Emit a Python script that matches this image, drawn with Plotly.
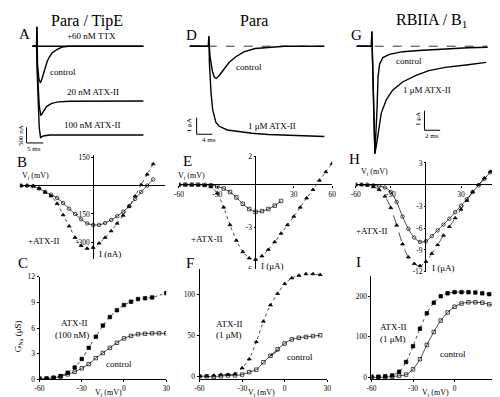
import plotly.graph_objects as go

W, H = 500, 397
FONT = "Liberation Serif"

# ---------------- DATA ----------------
# Panel A  (Para/TipE currents; time in ms, current in nA)
A_T_TTX = [-1.2, 0, 0.08, 0.25, 0.6, 32]
A_I_TTX = [0, 0, 620, 0, 0, 0]
A_T_CTRL = [-1.2, 0, 0.08, 0.3, 0.7, 1.1, 1.4, 1.76, 2.2, 2.74, 3.2, 3.73, 4.7, 6.2, 7.6, 9.6, 32]
A_I_CTRL = [0, 0, 620, -600, -1050, -1156, -1120, -990, -800, -625, -480, -365, -210, -103, -31, 0, 0]
A_T_20 = [-1.2, 0, 0.3, 0.8, 1.27, 2.0, 3.0, 4.5, 6.5, 10, 32]
A_I_20 = [0, 0, -900, -1900, -2220, -2080, -1930, -1830, -1780, -1760, -1750]
A_T_100 = [-1.2, 0, 0.3, 0.8, 1.2, 2.0, 4.0, 32]
A_I_100 = [0, 0, -1200, -2600, -2920, -2870, -2840, -2840]

# Panel D  (Para; ms, uA)
D_T_CTRL = [-4.75, 0, 0.1, 0.4, 1.0, 1.5, 2.0, 2.75, 4.0, 5.25, 6.9, 9.0, 11.9, 15.25, 19.4, 29.5]
D_I_CTRL = [0, 0, 0.6, -0.6, -1.5, -1.85, -1.94, -1.76, -1.37, -0.98, -0.65, -0.34, -0.14, -0.06, 0, 0]
D_T_ATX = [-4.75, 0, 0.1, 0.25, 0.67, 1.08, 1.9, 2.75, 4.8, 6.9, 11.1, 15.25, 23.6, 29.5]
D_I_ATX = [0, 0, 0.6, -1.0, -2.82, -3.82, -4.59, -4.82, -5.04, -5.12, -5.24, -5.31, -5.39, -5.43]

# Panel G  (RBIIA/B1; ms, uA)
G_T_CTRL = [-1.875, 0, 0.05, 0.25, 0.44, 0.71, 0.84, 1.04, 1.46, 2.29, 3.96, 6.04, 8.1, 12.3, 14.8]
G_I_CTRL = [0, 0, 0.75, -3.0, -5.5, -3.25, -1.58, -0.92, -0.58, -0.42, -0.28, -0.22, -0.17, -0.08, -0.05]
G_T_ATX = [-1.875, 0, 0.05, 0.25, 0.44, 0.63, 0.84, 1.25, 1.875, 2.7, 3.96, 5.6, 7.3, 9.4, 12.3, 14.6]
G_I_ATX = [0, 0, 0.75, -3.0, -5.5, -5.08, -4.42, -3.42, -2.75, -2.25, -1.83, -1.5, -1.25, -1.08, -0.95, -0.83]

# Panel B  (I-V, nA)
B_V = [-60, -55, -50, -45, -40, -35, -30, -25, -20, -15, -10, -5, 0, 5, 10, 15, 20, 25, 30, 35, 40, 45, 50]
B_CTRL = [0, 0, -3, -15, -33, -48, -65, -92, -122, -150, -178, -200, -208, -208, -198, -182, -162, -138, -108, -70, -33, 0, 33]
B_ATX = [0, 0, -3, -15, -35, -55, -95, -155, -215, -275, -318, -333, -328, -305, -275, -240, -200, -158, -110, -55, 5, 60, 115]

# Panel E  (I-V, uA)
E_V_CTRL = [-60, -55, -50, -45, -40, -35, -30, -25, -20, -15, -10, -5, 0, 5, 10, 15, 20]
E_CTRL = [0, 0, 0, 0, -0.02, -0.05, -0.12, -0.27, -0.52, -0.9, -1.35, -1.72, -1.92, -1.87, -1.72, -1.48, -1.15]
E_V_ATX = [-60, -55, -50, -45, -40, -35, -30, -25, -20, -15, -10, -5, 0, 5, 10, 15, 20, 25, 30, 35, 40, 45, 50, 55, 60]
E_ATX = [0, 0, 0, -0.02, -0.05, -0.16, -0.6, -1.6, -2.85, -3.95, -4.75, -5.2, -5.3, -5.05, -4.6, -4.05, -3.45, -2.85, -2.25, -1.6, -0.95, -0.35, 0.3, 0.9, 1.5]

# Panel H  (I-V, uA)
H_V = [-60, -55, -50, -45, -40, -35, -30, -25, -20, -15, -10, -5, 0, 5, 10, 15, 20, 25, 30, 35, 40, 45, 50, 55, 60]
H_CTRL = [0, 0, 0, -0.1, -0.2, -0.4, -1.0, -2.4, -4.4, -6.1, -7.3, -7.9, -7.8, -7.1, -6.3, -5.5, -4.7, -3.8, -2.9, -2.0, -1.0, -0.1, 0.8, 1.7, 2.6]
H_ATX = [0, 0, -0.1, -0.3, -0.7, -1.6, -3.2, -5.6, -8.2, -10.0, -10.9, -11.2, -10.6, -9.5, -8.3, -7.0, -5.8, -4.6, -3.4, -2.2, -1.0, 0.0, 0.9, 1.8, 2.7]

# Panel C  (G-V, uS)
C_V_ATX = [-60, -55, -50, -45, -40, -35, -30, -25, -20, -15, -10, -5, 0, 5, 10, 15, 20, 30]
C_ATX = [0.1, 0.1, 0.2, 0.4, 0.8, 1.4, 2.4, 3.7, 5.0, 6.3, 7.3, 8.1, 8.7, 9.1, 9.4, 9.5, 9.6, 10.1]
C_V_CTRL = [-60, -55, -50, -45, -40, -35, -30, -25, -20, -15, -10, -5, 0, 5, 10, 15, 20, 25, 30]
C_CTRL = [0.05, 0.1, 0.2, 0.35, 0.6, 0.9, 1.3, 1.8, 2.5, 3.1, 3.7, 4.3, 4.8, 5.1, 5.3, 5.35, 5.4, 5.4, 5.4]

# Panel F
F_V = [-60, -55, -50, -45, -40, -35, -30, -25, -20, -15, -10, -5, 0, 5, 10, 15, 20, 25]
F_ATX = [0, 0, 1, 2, 2, 3, 10, 21, 42, 67, 87, 101, 113, 120, 123, 125, 125, 124]
F_CTRL = [0, 0, -1, 0, 1, 1, 2, 5, 8, 17, 25, 33, 40, 45, 47, 48, 49, 50]

# Panel I
I_V = [-60, -55, -50, -45, -40, -35, -30, -25, -20, -15, -10, -5, 0, 5, 10, 15, 20, 25, 30]
I_ATX = [2, 2, 3, 5, 14, 38, 77, 120, 158, 184, 200, 207, 210, 210, 210, 209, 207, 205, 200]
I_CTRL = [0, 0, 1, 2, 4, 7, 20, 45, 80, 112, 140, 160, 174, 182, 185, 185, 184, 180, 176]

# scale bars (time, current)
SB_A = dict(t0=-3.0, i0=-3094, dt=5, di=500)
SB_D = dict(t0=-3.0, i0=-5.3, dt=4, di=1)
SB_G = dict(t0=6.75, i0=-4.3, dt=2, di=1)

# ---------------- helpers ----------------
fig = go.Figure()
layout = {}
shapes = []
anns = []


def ax(n, a):
    return f"{a}axis" if n == 1 else f"{a}axis{n}"


def rf(n, a):
    return a if n == 1 else f"{a}{n}"


def dom_x(a, b):
    return [a / W, b / W]


def dom_y(top, bottom):
    return [1 - bottom / H, 1 - top / H]


def rng_x(p0, p1, zero_px, ppu):
    return [(p0 - zero_px) / ppu, (p1 - zero_px) / ppu]


def rng_y(top, bottom, zero_px, ppu):
    return [(zero_px - bottom) / ppu, (zero_px - top) / ppu]


def trace_panel(n, xd, yd, xr, yr):
    layout[ax(n, "x")] = dict(domain=dom_x(*xd), range=xr, visible=False, anchor=rf(n, "y"))
    layout[ax(n, "y")] = dict(domain=dom_y(*yd), range=yr, visible=False, anchor=rf(n, "x"))


def line(n, x, y, width=1.4):
    fig.add_trace(go.Scatter(x=x, y=y, mode="lines", xaxis=rf(n, "x"), yaxis=rf(n, "y"),
                             line=dict(color="black", width=width), hoverinfo="skip", showlegend=False))


def pts(n, x, y, symbol, dash="solid"):
    fig.add_trace(go.Scatter(x=x, y=y, mode="lines+markers", xaxis=rf(n, "x"), yaxis=rf(n, "y"),
                             line=dict(color="black", width=0.7, dash=dash, shape="spline", smoothing=0.8),
                             marker=dict(symbol=symbol, size=3.5, color="black",
                                         line=dict(color="black", width=0.7)),
                             hoverinfo="skip", showlegend=False))


def scalebar(n, sb):
    for (x0, y0, x1, y1) in [(sb["t0"], sb["i0"], sb["t0"], sb["i0"] + sb["di"]),
                             (sb["t0"], sb["i0"], sb["t0"] + sb["dt"], sb["i0"])]:
        shapes.append(dict(type="line", xref=rf(n, "x"), yref=rf(n, "y"), x0=x0, y0=y0, x1=x1, y1=y1,
                           line=dict(color="black", width=1)))


def baseline(n, x0, x1):
    shapes.append(dict(type="line", xref=rf(n, "x"), yref=rf(n, "y"), x0=x0, x1=x1, y0=0, y1=0,
                       line=dict(color="black", width=0.8, dash="dash")))


def ann(text, x, y, size=9, angle=0):
    anns.append(dict(text=text, x=x / W, y=1 - y / H, xref="paper", yref="paper", showarrow=False,
                     xanchor="center", yanchor="middle", textangle=angle,
                     font=dict(family=FONT, size=size, color="black")))


TICKFONT = dict(family=FONT, size=7.5, color="black")


def iv_panel(n, xd, yd, xr, yr, xt, yt):
    zx = xd[0] + (0 - xr[0]) / (xr[1] - xr[0]) * (xd[1] - xd[0])
    zy = yd[1] - (0 - yr[0]) / (yr[1] - yr[0]) * (yd[1] - yd[0])
    layout[ax(n, "x")] = dict(domain=dom_x(*xd), range=xr, anchor="free", position=1 - zy / H,
                              showgrid=False, showline=False, zeroline=True, zerolinecolor="black",
                              zerolinewidth=1, ticks="outside" if xt else "", ticklen=2, tickcolor="black",
                              tickvals=[v for v, _ in xt], ticktext=[t for _, t in xt],
                              showticklabels=bool(xt), tickfont=TICKFONT, side="bottom")
    layout[ax(n, "y")] = dict(domain=dom_y(*yd), range=yr, anchor="free", position=zx / W,
                              showgrid=False, showline=False, zeroline=True, zerolinecolor="black",
                              zerolinewidth=1, ticks="outside", ticklen=2, tickcolor="black",
                              tickvals=[v for v, _ in yt], ticktext=[t for _, t in yt],
                              tickfont=TICKFONT, side="left")


def gv_panel(n, xd, yd, xr, yr, xt, yt):
    layout[ax(n, "x")] = dict(domain=dom_x(*xd), range=xr, anchor=rf(n, "y"), showgrid=False,
                              showline=True, linecolor="black", linewidth=1, zeroline=False,
                              ticks="outside", ticklen=2, tickcolor="black", tickvals=xt,
                              ticktext=[str(v) for v in xt], tickfont=TICKFONT)
    layout[ax(n, "y")] = dict(domain=dom_y(*yd), range=yr, anchor=rf(n, "x"), showgrid=False,
                              showline=True, linecolor="black", linewidth=1, zeroline=False,
                              ticks="outside", ticklen=2, tickcolor="black", tickvals=yt,
                              ticktext=[str(v) for v in yt], tickfont=TICKFONT)


# ---------------- current traces ----------------
trace_panel(1, (5, 140), (12, 145), rng_x(5, 140, 24, 3.4), rng_y(12, 145, 35, 0.032))
trace_panel(2, (170, 325), (12, 145), rng_x(170, 325, 199, 4), rng_y(12, 145, 35, 17))
trace_panel(3, (340, 495), (12, 150), rng_x(340, 495, 365, 8), rng_y(12, 150, 35, 20))

line(1, A_T_TTX, A_I_TTX)
line(1, A_T_CTRL, A_I_CTRL)
line(1, A_T_20, A_I_20)
line(1, A_T_100, A_I_100)
scalebar(1, SB_A)

baseline(2, -4.75, 29.5)
line(2, D_T_CTRL, D_I_CTRL)
line(2, D_T_ATX, D_I_ATX)
scalebar(2, SB_D)

baseline(3, -1.875, 14.75)
line(3, G_T_CTRL, G_I_CTRL)
line(3, G_T_ATX, G_I_ATX)
scalebar(3, SB_G)

# ---------------- I-V panels ----------------
iv_panel(4, (7, 155), (146, 253), [-61, 60], [-390, 164], [],
         [(150, "150"), (-150, "-150"), (-300, "-300")])
pts(4, B_V, B_CTRL, "circle-open")
pts(4, B_V, B_ATX, "triangle-up", "dot")

iv_panel(5, (169, 325), (147.8, 263.4), [-60, 60], [-6, 2],
         [(-60, "-60"), (-30, "-30"), (30, "30"), (60, "60")],
         [(2, "2"), (-3, "-3"), (-6, "-6")])
pts(5, E_V_CTRL, E_CTRL, "square-open")
pts(5, E_V_ATX, E_ATX, "triangle-up", "dot")

iv_panel(6, (349, 492), (154.4, 265.7), [-60, 60], [-12, 3],
         [(-60, "-60"), (-30, "-30"), (30, "30"), (60, "60")],
         [(3, "3"), (-3, "-3"), (-6, "-6"), (-9, "-9"), (-12, "-12")])
pts(6, H_V, H_CTRL, "circle-open")
pts(6, H_V, H_ATX, "triangle-up", "dash")

# ---------------- G-V panels ----------------
gv_panel(7, (27, 156), (271, 376), [-60, 30], [0, 12], [-60, -30, 0, 30], [0, 3, 6, 9, 12])
pts(7, C_V_ATX, C_ATX, "square", "dot")
pts(7, C_V_CTRL, C_CTRL, "square-open")

gv_panel(8, (190, 320), (263, 376), [-60, 30], [-4, 131], [-60, -30, 0, 30], [0, 50, 100])
pts(8, F_V, F_ATX, "triangle-up", "dot")
pts(8, F_V, F_CTRL, "square-open")

gv_panel(9, (365, 492), (270, 376), [-60, 30], [-5, 250], [-60, -30, 0, 30], [0, 100, 200])
pts(9, I_V, I_ATX, "square", "dot")
pts(9, I_V, I_CTRL, "square-open")

# ---------------- text ----------------
ann("Para / TipE", 75, 9, 16)
ann("Para", 245, 9, 16)
ann("RBIIA / B<sub>1</sub>", 426, 9, 16)
for lab, x, y in [("A", 12, 23), ("D", 182, 24), ("G", 350, 24), ("B", 9, 153), ("E", 178, 152),
                  ("H", 348, 150), ("C", 10, 257), ("F", 180, 257), ("I", 352, 256)]:
    ann(lab, x, y, 15)

ann("+60 nM TTX", 80, 25)
ann("control", 51, 61)
ann("20 nM ATX-II", 81, 82)
ann("100 nM ATX-II", 81, 116)
ann("500 nA", 8, 126, 7, -90)
ann("5 ms", 21, 140, 7)

ann("control", 240, 56)
ann("1 μM ATX-II", 264, 117)
ann("1 μA", 180, 116, 7, -90)
ann("4 ms", 200, 131, 7)

ann("control", 403, 50)
ann("1 μM ATX-II", 422, 80)
ann("1 μA", 412, 110, 7, -90)
ann("2 ms", 427, 127, 7)

ann("V<sub>t</sub> (mV)", 23, 168, 8)
ann("+ATX-II", 32, 234)
ann("I (nA)", 99, 248)
ann("V<sub>t</sub> (mV)", 182, 168, 8)
ann("+ATX-II", 198, 232)
ann("I (μA)", 264, 260)
ann("V<sub>t</sub> (mV)", 368, 164, 8)
ann("+ATX-II", 366, 224)
ann("I (μA)", 438, 262)

ann("G<sub>Na</sub> (μS)", 6, 332, 9, -90)
ann("ATX-II", 63, 318)
ann("(100 nM)", 60, 331)
ann("control", 108, 360)
ann("V<sub>t</sub> (mV)", 97, 390, 8)
ann("ATX-II", 220, 319)
ann("(1 μM)", 220, 331)
ann("control", 292, 353)
ann("V<sub>t</sub> (mV)", 253, 390, 8)
ann("ATX-II", 387, 322)
ann("(1 μM)", 387, 335)
ann("control", 448, 350)
ann("V<sub>t</sub> (mV)", 430, 390, 8)

anns.append(dict(text="", x=-10, y=25, xref="x8", yref="y8", showarrow=True, ax=10, ay=-7,
                 arrowhead=1, arrowsize=0.6, arrowwidth=0.8, arrowcolor="black"))

fig.update_layout(width=W, height=H, margin=dict(l=0, r=0, t=0, b=0),
                  paper_bgcolor="white", plot_bgcolor="white", showlegend=False,
                  font=dict(family=FONT, color="black"), shapes=shapes, annotations=anns, **layout)

fig.write_html("out.html")
